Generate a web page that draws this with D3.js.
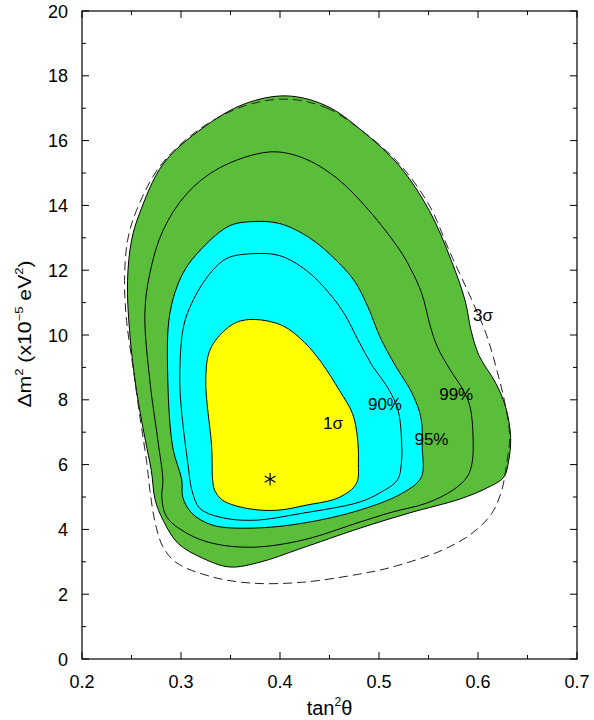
<!DOCTYPE html>
<html><head><meta charset="utf-8">
<script src="https://cdn.jsdelivr.net/npm/d3@7"></script>
<style>body{margin:0;background:#fff}svg{font-family:"Liberation Sans",Arial,sans-serif}</style>
</head><body>
<svg id="c" width="594" height="720"></svg>
<script>
// Data: contours as [tan^2 theta, dm^2 (1e-5 eV^2)]
const sigma3 = [[0.4067,17.38],[0.447,17.07],[0.483,16.30],[0.5206,15.22],[0.5508,13.84],[0.573,12.30],[0.587,11.06],[0.593,10.14],[0.601,9.37],[0.618,8.51],[0.628,7.77],[0.633,6.84],[0.631,6.13],[0.626,5.61],[0.609,5.28],[0.582,4.94],[0.531,4.51],[0.481,4.04],[0.420,3.40],[0.380,2.99],[0.349,2.84],[0.322,3.11],[0.297,3.57],[0.282,4.28],[0.274,4.90],[0.270,5.82],[0.264,6.75],[0.255,8.29],[0.248,10.14],[0.246,11.68],[0.250,12.91],[0.258,13.74],[0.282,15.28],[0.322,16.39],[0.364,17.13]];
const sigma3Dashed = [[0.4067,17.28],[0.447,17.01],[0.483,16.30],[0.5206,15.28],[0.551,13.99],[0.571,12.60],[0.594,11.06],[0.608,10.05],[0.621,8.69],[0.628,7.77],[0.632,6.84],[0.629,6.04],[0.624,5.21],[0.614,4.50],[0.594,3.88],[0.564,3.36],[0.5135,2.84],[0.480,2.62],[0.423,2.37],[0.372,2.34],[0.332,2.53],[0.296,2.96],[0.282,3.45],[0.274,4.19],[0.2686,5.21],[0.2655,6.04],[0.258,7.58],[0.252,8.91],[0.245,10.45],[0.243,11.68],[0.246,12.91],[0.255,13.84],[0.279,15.22],[0.319,16.36],[0.364,17.07]];
const cl99 = [[0.3895,15.65],[0.4228,15.47],[0.457,14.85],[0.490,13.84],[0.521,12.62],[0.531,12.10],[0.543,11.30],[0.552,10.25],[0.559,9.63],[0.572,8.92],[0.585,8.30],[0.592,7.78],[0.595,6.85],[0.594,6.05],[0.589,5.62],[0.575,5.22],[0.548,4.81],[0.514,4.54],[0.481,4.23],[0.423,3.67],[0.372,3.45],[0.332,3.57],[0.306,3.88],[0.2857,4.38],[0.2806,4.99],[0.2817,5.52],[0.2766,6.75],[0.2685,8.60],[0.2635,10.66],[0.2685,11.90],[0.2817,13.22],[0.3058,14.36],[0.339,15.16]];
const cl95 = [[0.3724,13.50],[0.3996,13.44],[0.4298,13.00],[0.457,12.30],[0.4758,11.64],[0.4889,10.86],[0.501,9.94],[0.5162,9.07],[0.5333,8.21],[0.5424,7.44],[0.5437,6.53],[0.5427,5.61],[0.5236,5.12],[0.480,4.59],[0.4228,4.19],[0.372,4.04],[0.332,4.13],[0.311,4.50],[0.3018,4.99],[0.3008,5.52],[0.2917,6.53],[0.2867,8.60],[0.2887,10.66],[0.3018,11.90],[0.322,12.70],[0.349,13.37]];
const cl90 = [[0.3724,12.51],[0.3996,12.45],[0.4268,11.99],[0.450,11.28],[0.4657,10.62],[0.4788,9.85],[0.4929,9.07],[0.5091,8.36],[0.5192,7.69],[0.5226,6.84],[0.5226,6.04],[0.5185,5.52],[0.5004,5.12],[0.480,4.84],[0.4228,4.50],[0.372,4.28],[0.339,4.38],[0.319,4.65],[0.311,5.21],[0.3069,6.04],[0.3008,7.58],[0.2988,8.60],[0.3018,10.14],[0.3089,10.85],[0.326,11.77],[0.346,12.36]];
const sigma1 = [[0.3744,10.48],[0.4026,10.29],[0.4248,9.77],[0.4419,9.15],[0.460,8.29],[0.4732,7.58],[0.4782,6.84],[0.4792,6.04],[0.4772,5.42],[0.460,4.99],[0.4268,4.75],[0.3966,4.59],[0.3663,4.65],[0.3421,4.90],[0.334,5.21],[0.332,5.52],[0.331,6.53],[0.325,8.60],[0.329,9.52],[0.341,10.05],[0.356,10.39]];
const bestFit = [0.39, 5.55];
const labels = [{t:"3σ",x:0.605,y:10.59},{t:"99%",x:0.578,y:8.15},{t:"90%",x:0.506,y:7.84},{t:"95%",x:0.553,y:6.79},{t:"1σ",x:0.4535,y:7.28}];
const xTicks = [0.2,0.3,0.4,0.5,0.6,0.7];
const xMinor = [0.25,0.35,0.45,0.55,0.65];
const yTicks = [0,2,4,6,8,10,12,14,16,18,20];
const yMinor = [1,3,5,7,9,11,13,15,17,19];

const svg = d3.select("#c");
const L=82,R=577,T=11,B=659;
const x = d3.scaleLinear().domain([0.2,0.7]).range([L,R]);
const y = d3.scaleLinear().domain([0,20]).range([B,T]);
const line = d3.line().x(d=>x(d[0])).y(d=>y(d[1])).curve(d3.curveCatmullRomClosed.alpha(0.5));

const g = svg.append("g");
g.append("path").attr("d",line(sigma3)).attr("fill","#5bbe3b").attr("stroke","#000").attr("stroke-width",1);
g.append("path").attr("d",line(cl99)).attr("fill","none").attr("stroke","#000").attr("stroke-width",1);
g.append("path").attr("d",line(cl95)).attr("fill","#00ffff").attr("stroke","#000").attr("stroke-width",1);
g.append("path").attr("d",line(cl90)).attr("fill","none").attr("stroke","#000").attr("stroke-width",1);
g.append("path").attr("d",line(sigma1)).attr("fill","#ffff00").attr("stroke","#000").attr("stroke-width",1);
g.append("path").attr("d",line(sigma3Dashed)).attr("fill","none").attr("stroke","#222").attr("stroke-width",1).attr("stroke-dasharray","9,5");

g.append("path").attr("d",d3.symbol(d3.symbolAsterisk,110)())
  .attr("transform",`translate(${x(bestFit[0])},${y(bestFit[1])})`)
  .attr("stroke","#000").attr("stroke-width",1.2).attr("fill","none");

g.selectAll("text.lab").data(labels).join("text").attr("class","lab")
  .attr("x",d=>x(d.x)).attr("y",d=>y(d.y)).attr("text-anchor","middle").attr("dominant-baseline","central")
  .attr("font-size",17).text(d=>d.t);

// frame
svg.append("rect").attr("x",L).attr("y",T).attr("width",R-L).attr("height",B-T).attr("fill","none").attr("stroke","#000").attr("stroke-width",1.2);

// axes with inward ticks
const ax = svg.append("g");
function xt(vals,len){
  vals.forEach(v=>{
    ax.append("line").attr("x1",x(v)).attr("x2",x(v)).attr("y1",B).attr("y2",B-len).attr("stroke","#000");
    ax.append("line").attr("x1",x(v)).attr("x2",x(v)).attr("y1",T).attr("y2",T+len).attr("stroke","#000");
  });
}
function yt(vals,len){
  vals.forEach(v=>{
    ax.append("line").attr("y1",y(v)).attr("y2",y(v)).attr("x1",L).attr("x2",L+len).attr("stroke","#000");
    ax.append("line").attr("y1",y(v)).attr("y2",y(v)).attr("x1",R).attr("x2",R-len).attr("stroke","#000");
  });
}
xt(xTicks,7); xt(xMinor,4); yt(yTicks,7); yt(yMinor,4);

ax.selectAll("text.xl").data(xTicks).join("text").attr("class","xl")
  .attr("x",d=>x(d)).attr("y",B+29).attr("text-anchor","middle").attr("font-size",18).text(d=>d.toFixed(1));
ax.selectAll("text.yl").data(yTicks).join("text").attr("class","yl")
  .attr("x",L-14).attr("y",d=>y(d)+6.5).attr("text-anchor","end").attr("font-size",18).text(d=>d);

// axis titles
const xtit = svg.append("text").attr("x",(L+R)/2).attr("y",715).attr("text-anchor","middle").attr("font-size",20);
xtit.append("tspan").text("tan");
xtit.append("tspan").attr("font-size",12).attr("dy",-9).text("2");
xtit.append("tspan").attr("dy",9).text("θ");

const ytit = svg.append("text").attr("transform",`translate(31,334) rotate(-90) scale(1.18,1)`).attr("text-anchor","middle").attr("font-size",18);
ytit.append("tspan").text("Δm");
ytit.append("tspan").attr("font-size",11).attr("dy",-8).text("2");
ytit.append("tspan").attr("dy",8).text(" (x10");
ytit.append("tspan").attr("font-size",11).attr("dy",-8).text("−5");
ytit.append("tspan").attr("dy",8).text(" eV");
ytit.append("tspan").attr("font-size",11).attr("dy",-8).text("2");
ytit.append("tspan").attr("dy",8).text(")");
</script>
</body></html>
